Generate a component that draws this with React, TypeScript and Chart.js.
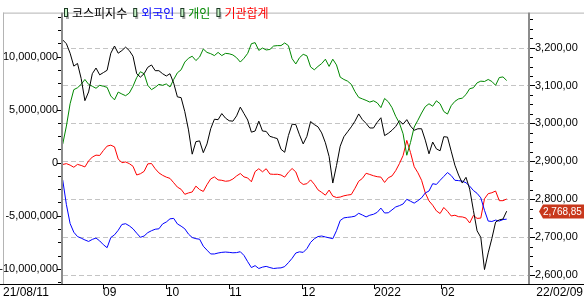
import React, { useEffect, useRef } from 'react';
import { Chart, registerables } from 'chart.js';

Chart.register(...registerables);

const seriesNames = ['코스피지수', '외국인', '개인', '기관합계'];

const kospi = [
  3220, 3210, 3185, 3151, 3158, 3118, 3060, 3083, 3131, 3146,
  3128, 3134, 3140, 3185, 3204, 3185, 3192, 3201, 3192, 3177,
  3131, 3122, 3131, 3148, 3154, 3139, 3139, 3131, 3125, 3131,
  3106, 3070, 3068, 3031, 2983, 2919, 2952, 2954, 2923, 2946,
  2986, 3011, 3010, 3026, 3014, 3007, 3006, 3020, 3043, 3026,
  3009, 2977, 2980, 3006, 2980, 2979, 2966, 2963, 2960, 2932,
  2924, 2968, 2998, 2997, 2970, 2946, 2966, 3005, 2997, 2991,
  2975, 2949, 2913, 2843, 2889, 2940, 2965, 2978, 2991, 3006,
  3025, 3010, 3000, 2988, 2988, 3003, 3015, 2968, 2974, 2982,
  2992, 3007, 2998, 3010, 2993, 2982, 2986, 2986, 2956, 2920,
  2951, 2933, 2928, 2965, 2964, 2927, 2890, 2864, 2843, 2858,
  2827, 2771, 2717, 2700, 2615, 2659, 2697, 2740, 2746, 2748, 2768.85,
];

const foreign = [
  -1620000, -3950000, -5730000, -6550000, -6960000, -7110000, -7280000, -7420000, -7230000, -7100000,
  -7370000, -7730000, -8010000, -7050000, -6800000, -6370000, -5820000, -5750000, -5950000, -6230000,
  -6640000, -7030000, -6910000, -6590000, -6410000, -6270000, -6230000, -5770000, -5590000, -5290000,
  -5250000, -5770000, -5980000, -6230000, -6730000, -7050000, -7160000, -7210000, -7870000, -8240000,
  -8600000, -8600000, -8510000, -8450000, -8420000, -8450000, -8490000, -8470000, -8390000, -8740000,
  -9330000, -9880000, -9700000, -9970000, -9840000, -9770000, -9880000, -9970000, -9930000, -9910000,
  -9790000, -9420000, -9010000, -8510000, -8400000, -8450000, -8100000, -7510000, -7170000, -6960000,
  -6910000, -7000000, -7080000, -7160000, -6410000, -5450000, -5200000, -5150000, -5110000, -5040000,
  -4770000, -4930000, -5110000, -4950000, -4860000, -4680000, -4280000, -4740000, -4720000, -4450000,
  -4170000, -4050000, -3890000, -3450000, -3630000, -3810000, -3580000, -3310000, -2850000, -2670000,
  -1980000, -2050000, -1660000, -1300000, -930000, -1210000, -1660000, -1690000, -1740000, -1890000,
  -2210000, -2620000, -2890000, -3310000, -4490000, -5500000, -5540000, -5410000, -5500000, -5360000, -5320000,
];

const individual = [
  1740000, 3450000, 5550000, 6880000, 7060000, 7380000, 7840000, 7380000, 7200000, 7010000,
  7290000, 7200000, 7100000, 6280000, 5920000, 6650000, 6470000, 6310000, 6560000, 7200000,
  8020000, 8570000, 8380000, 7290000, 6880000, 7100000, 7380000, 7290000, 7420000, 7130000,
  7840000, 8470000, 8750000, 9480000, 9840000, 10030000, 9620000, 9960000, 10710000, 10390000,
  10270000, 10090000, 10390000, 10090000, 10300000, 10260000, 10150000, 9890000, 9480000, 9840000,
  10300000, 11210000, 11310000, 10580000, 10800000, 10620000, 10670000, 10990000, 11030000, 11030000,
  11280000, 11030000, 9800000, 9300000, 9890000, 10210000, 10070000, 9020000, 8750000, 9070000,
  9340000, 9750000, 9070000, 9750000, 9210000, 8060000, 7840000, 7680000, 7380000, 6690000,
  6150000, 6010000, 5870000, 5710000, 5830000, 5640000, 5190000, 6050000, 5740000, 5190000,
  4370000, 3730000, 2720000, 700000, 1900000, 3360000, 4000000, 4680000, 5280000, 5550000,
  5320000, 5830000, 5550000, 4820000, 4580000, 5370000, 5780000, 6010000, 6080000, 6420000,
  6970000, 7060000, 7520000, 7680000, 7650000, 7840000, 7650000, 7290000, 8020000, 8080000, 7740000,
];

const institution = [
  -170000, -90000, -230000, -430000, -160000, -260000, -400000, 160000, 530000, 710000,
  680000, 1150000, 1560000, 1650000, 1490000, 350000, 0, 70000, -90000, -340000,
  -1160000, -1040000, -820000, -110000, -80000, -570000, -960000, -1190000, -1360000, -1480000,
  -1890000, -2300000, -2510000, -2980000, -2850000, -2760000, -2210000, -2530000, -2710000, -2070000,
  -1530000, -1340000, -1620000, -1660000, -1750000, -1710000, -1540000, -1250000, -1020000, -1340000,
  -1440000, -1800000, -840000, -570000, -860000, -570000, -1070000, -1100000, -1090000, -1160000,
  -1360000, -890000, -550000, -870000, -1780000, -2050000, -1980000, -1620000, -2030000, -2560000,
  -2800000, -3060000, -2580000, -3150000, -3280000, -3240000, -3120000, -3050000, -3000000, -2410000,
  -1750000, -1480000, -1000000, -1110000, -1230000, -1320000, -1360000, -1860000, -1420000, -1250000,
  -750000, -90000, 670000, 2100000, 960000, -380000, -950000, -1660000, -2850000, -3600000,
  -4010000, -4540000, -4790000, -4220000, -4580000, -5020000, -4950000, -5090000, -5110000, -5220000,
  -5680000, -4970000, -5250000, -5220000, -3400000, -2920000, -2830000, -2670000, -3580000, -3580000, -3420000,
];

const xTickAt = [10.9, 27.9, 45.0, 64.7, 84.2, 102.3];
const xTickLabels = ['09', '10', '11', '12', '2022', '02'];
const leftTicks = [-10000000, -5000000, 0, 5000000, 10000000];
const rightTicks = [2600, 2700, 2800, 2900, 3000, 3100, 3200];
const rangeStart = '21/08/11';
const rangeEnd = '22/02/09';

const COLORS = ['#000000', '#0000ff', '#008800', '#ff0000'];
const NUM_FONT = '"Liberation Sans", Arial, sans-serif';
const DATE_FONT = '"Liberation Sans", Arial, sans-serif';
const KR_FONT = '"Noto Sans CJK KR", sans-serif';

const groupDigits = (s: string) => s.replace(/\B(?=(\d{3})+(?!\d))/g, ',');
const fmtPrice = (v: number) => {
  const [a, b] = v.toFixed(2).split('.');
  return groupDigits(a) + ',' + b;
};
const fmtAmount = (v: number) => groupDigits(Math.round(v).toString());

const decor = {
  id: 'decor',
  beforeDatasetsDraw(chart: any) {
    const { ctx, chartArea: a, scales } = chart;
    const y1 = scales.y1;
    ctx.save();
    ctx.strokeStyle = '#c4c4c4';
    ctx.lineWidth = 1;
    ctx.setLineDash([5, 3]);
    rightTicks.forEach((v) => {
      const py = Math.round(y1.getPixelForValue(v)) + 0.5;
      ctx.beginPath();
      ctx.moveTo(a.left + 1, py);
      ctx.lineTo(a.right, py);
      ctx.stroke();
    });
    ctx.restore();
  },
  afterDraw(chart: any) {
    const { ctx, chartArea: a, scales, width } = chart;
    const { x, y, y1 } = scales;
    ctx.save();
    ctx.fillStyle = '#b4b4b4';
    ctx.fillRect(3, a.top, width - 3, 1);
    ctx.fillRect(3, a.top, 1, a.bottom - a.top);
    ctx.fillStyle = '#8c8c8c';
    ctx.fillRect(a.left - 1, a.top, 2, a.bottom - a.top);
    ctx.fillRect(a.right - 1, a.top, 2, a.bottom - a.top);
    ctx.fillStyle = '#000';
    ctx.fillRect(0, a.bottom, width, 1);
    const lStep = 1250000;
    for (let v = Math.ceil(y.min / lStep) * lStep; v <= y.max; v += lStep) {
      const py = Math.round(y.getPixelForValue(v));
      const major = leftTicks.includes(v);
      ctx.fillRect(a.left - (major ? 5 : 4), py, major ? 4 : 3, 1);
    }
    const rStep = 25;
    for (let v = Math.ceil(y1.min / rStep) * rStep; v <= y1.max; v += rStep) {
      const py = Math.round(y1.getPixelForValue(v));
      const major = rightTicks.includes(v);
      ctx.fillRect(a.right + 1, py, major ? 5 : 3, 1);
    }
    xTickAt.forEach((v) => {
      const px = Math.round(x.getPixelForValue(v));
      ctx.fillRect(px, a.bottom, 1, 5);
    });
    ctx.font = `12px ${KR_FONT}`;
    ctx.textBaseline = 'middle';
    ctx.textAlign = 'left';
    let lx = 64;
    chart.data.datasets.forEach((ds: any) => {
      ctx.fillStyle = '#a8a8a8';
      ctx.fillRect(lx + 2, 12, 3, 7);
      ctx.fillStyle = '#1e3a26';
      ctx.fillRect(lx, 8, 4, 9);
      ctx.fillStyle = '#c6f2c6';
      ctx.fillRect(lx + 1, 9, 2, 7);
      ctx.fillStyle = ds.borderColor;
      ctx.fillText(ds.label, lx + 8, 13);
      lx += 8 + ctx.measureText(ds.label).width + 6;
    });
    const last = kospi[kospi.length - 1];
    const cy = Math.round(y1.getPixelForValue(last)) + 0.5;
    ctx.fillStyle = '#c8381c';
    ctx.beginPath();
    ctx.moveTo(a.right + 10, cy);
    ctx.lineTo(a.right + 14, cy - 7);
    ctx.lineTo(width, cy - 7);
    ctx.lineTo(width, cy + 7);
    ctx.lineTo(a.right + 14, cy + 7);
    ctx.closePath();
    ctx.fill();
    ctx.fillStyle = '#ffffff';
    ctx.font = `10px ${NUM_FONT}`;
    ctx.fillText(fmtPrice(last), a.right + 14, cy + 0.5);
    ctx.fillStyle = '#000';
    ctx.font = `12px ${DATE_FONT}`;
    ctx.textAlign = 'left';
    ctx.fillText(rangeStart, 3, 293);
    ctx.textAlign = 'right';
    ctx.fillText(rangeEnd, width - 1, 293);
    ctx.restore();
  },
};

export default function App() {
  const ref = useRef<HTMLCanvasElement | null>(null);

  useEffect(() => {
    if (!ref.current) return;
    const toPts = (arr: number[]) => arr.map((v, i) => ({ x: i, y: v }));
    const series = [kospi, foreign, individual, institution];
    const chart = new Chart(ref.current, {
      type: 'line',
      data: {
        datasets: series.map((arr, k) => ({
          label: seriesNames[k],
          data: toPts(arr),
          yAxisID: k === 0 ? 'y1' : 'y',
          borderColor: COLORS[k],
          backgroundColor: COLORS[k],
          borderWidth: 1,
          pointRadius: 0,
          tension: 0,
          fill: false,
        })),
      },
      options: {
        responsive: false,
        animation: false,
        devicePixelRatio: 1,
        layout: { padding: { top: 4, left: 0, right: 0, bottom: 0 } },
        plugins: { legend: { display: false }, tooltip: { enabled: false } },
        scales: {
          x: {
            type: 'linear',
            min: -0.19,
            max: 126.03,
            afterFit: (s: any) => { s.height = 19; },
            afterBuildTicks: (s: any) => { s.ticks = xTickAt.map((v) => ({ value: v })); },
            grid: { display: false, drawTicks: false },
            border: { display: false },
            ticks: {
              callback: (_v: any, i: number) => xTickLabels[i],
              align: 'start',
              autoSkip: false,
              maxRotation: 0,
              padding: 1,
              color: '#000',
              font: { family: DATE_FONT, size: 12 },
            },
          },
          y: {
            type: 'linear',
            position: 'left',
            min: -11430000,
            max: 14140000,
            afterFit: (s: any) => { s.width = 62; },
            afterBuildTicks: (s: any) => { s.ticks = leftTicks.map((v) => ({ value: v })); },
            grid: { display: false, drawTicks: false },
            border: { display: false },
            ticks: {
              callback: (v: any) => fmtAmount(Number(v)),
              padding: 4,
              color: '#000',
              font: { family: NUM_FONT, size: 11 },
            },
          },
          y1: {
            type: 'linear',
            position: 'right',
            min: 2577,
            max: 3292,
            afterFit: (s: any) => { s.width = 55; },
            afterBuildTicks: (s: any) => { s.ticks = rightTicks.map((v) => ({ value: v })); },
            grid: { display: false, drawTicks: false },
            border: { display: false },
            ticks: {
              callback: (v: any) => fmtPrice(Number(v)),
              padding: 6,
              color: '#000',
              font: { family: NUM_FONT, size: 11 },
            },
          },
        },
      },
      plugins: [decor],
    } as any);
    return () => chart.destroy();
  }, []);

  return (
    <div style={{ position: 'absolute', left: 0, top: 0, width: 584, height: 303, background: '#fff' }}>
      <canvas ref={ref} width={584} height={303} style={{ display: 'block' }} />
    </div>
  );
}
